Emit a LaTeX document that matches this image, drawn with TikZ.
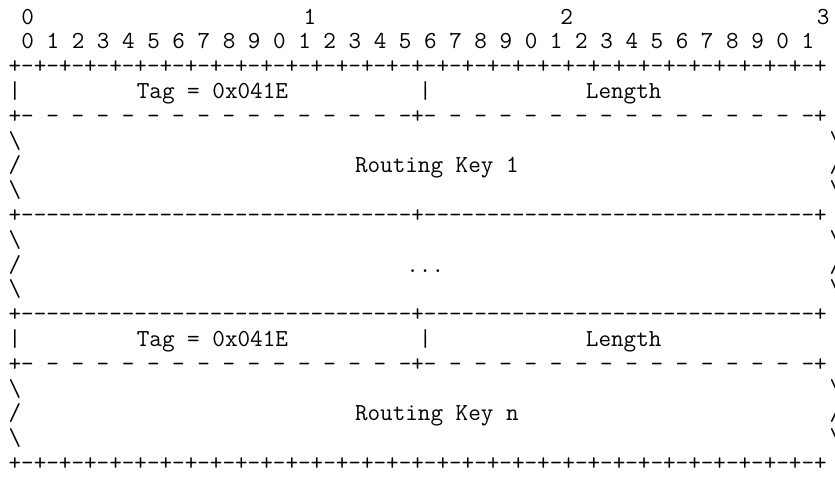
\documentclass[tikz,border=0pt]{standalone}
\usepackage{fontspec}
\setmonofont{Latin Modern Mono}

\begin{document}
\begin{tikzpicture}[x=12.83pt,y=-24.8pt]
\tikzset{
  glyph/.style={anchor=base west,inner sep=0pt,outer sep=0pt,text=black,font=\ttfamily\fontsize{24.44}{26}\selectfont}
}
\useasboundingbox[fill=white] (-0.67,-0.97) rectangle (64.41,18.55);
% bit numbers
\node[glyph] (n_d0) at (1,0) {0};
\node[glyph] (n_d1) at (23,0) {1};
\node[glyph] (n_d2) at (43,0) {2};
\node[glyph] (n_d3) at (63,0) {3};
\node[glyph] (n_bits) at (1,1) {0 1 2 3 4 5 6 7 8 9 0 1 2 3 4 5 6 7 8 9 0 1 2 3 4 5 6 7 8 9 0 1};
\node[glyph] (n_top) at (0,2) {+-+-+-+-+-+-+-+-+-+-+-+-+-+-+-+-+-+-+-+-+-+-+-+-+-+-+-+-+-+-+-+-+};
% first parameter
\node[glyph] (n_bar1a) at (0,3) {|};
\node[glyph] (n_tag1) at (10,3) {Tag = 0x041E};
\node[glyph] (n_bar1b) at (32,3) {|};
\node[glyph] (n_len1) at (45,3) {Length};
\node[glyph] (n_bar1c) at (64,3) {|};
\node[glyph] (n_sep1) at (0,4) {+- - - - - - - - - - - - - - - -+- - - - - - - - - - - - - - - -+};
\node[glyph] (n_l5) at (0,5) {\textbackslash};
\node[glyph] (n_r5) at (64,5) {\textbackslash};
\node[glyph] (n_l6) at (0,6) {/};
\node[glyph] (n_key1) at (27,6) {Routing Key 1};
\node[glyph] (n_r6) at (64,6) {/};
\node[glyph] (n_l7) at (0,7) {\textbackslash};
\node[glyph] (n_r7) at (64,7) {\textbackslash};
\node[glyph] (n_rule1) at (0,8) {+-------------------------------+-------------------------------+};
% more keys
\node[glyph] (n_l9) at (0,9) {\textbackslash};
\node[glyph] (n_r9) at (64,9) {\textbackslash};
\node[glyph] (n_l10) at (0,10) {/};
\node[glyph] (n_dots) at (31,10) {...};
\node[glyph] (n_r10) at (64,10) {/};
\node[glyph] (n_l11) at (0,11) {\textbackslash};
\node[glyph] (n_r11) at (64,11) {\textbackslash};
\node[glyph] (n_rule2) at (0,12) {+-------------------------------+-------------------------------+};
% last parameter
\node[glyph] (n_bar2a) at (0,13) {|};
\node[glyph] (n_tag2) at (10,13) {Tag = 0x041E};
\node[glyph] (n_bar2b) at (32,13) {|};
\node[glyph] (n_len2) at (45,13) {Length};
\node[glyph] (n_bar2c) at (64,13) {|};
\node[glyph] (n_sep2) at (0,14) {+- - - - - - - - - - - - - - - -+- - - - - - - - - - - - - - - -+};
\node[glyph] (n_l15) at (0,15) {\textbackslash};
\node[glyph] (n_r15) at (64,15) {\textbackslash};
\node[glyph] (n_l16) at (0,16) {/};
\node[glyph] (n_keyn) at (27,16) {Routing Key n};
\node[glyph] (n_r16) at (64,16) {/};
\node[glyph] (n_l17) at (0,17) {\textbackslash};
\node[glyph] (n_r17) at (64,17) {\textbackslash};
\node[glyph] (n_bottom) at (0,18) {+-+-+-+-+-+-+-+-+-+-+-+-+-+-+-+-+-+-+-+-+-+-+-+-+-+-+-+-+-+-+-+-+};
\end{tikzpicture}
\end{document}
